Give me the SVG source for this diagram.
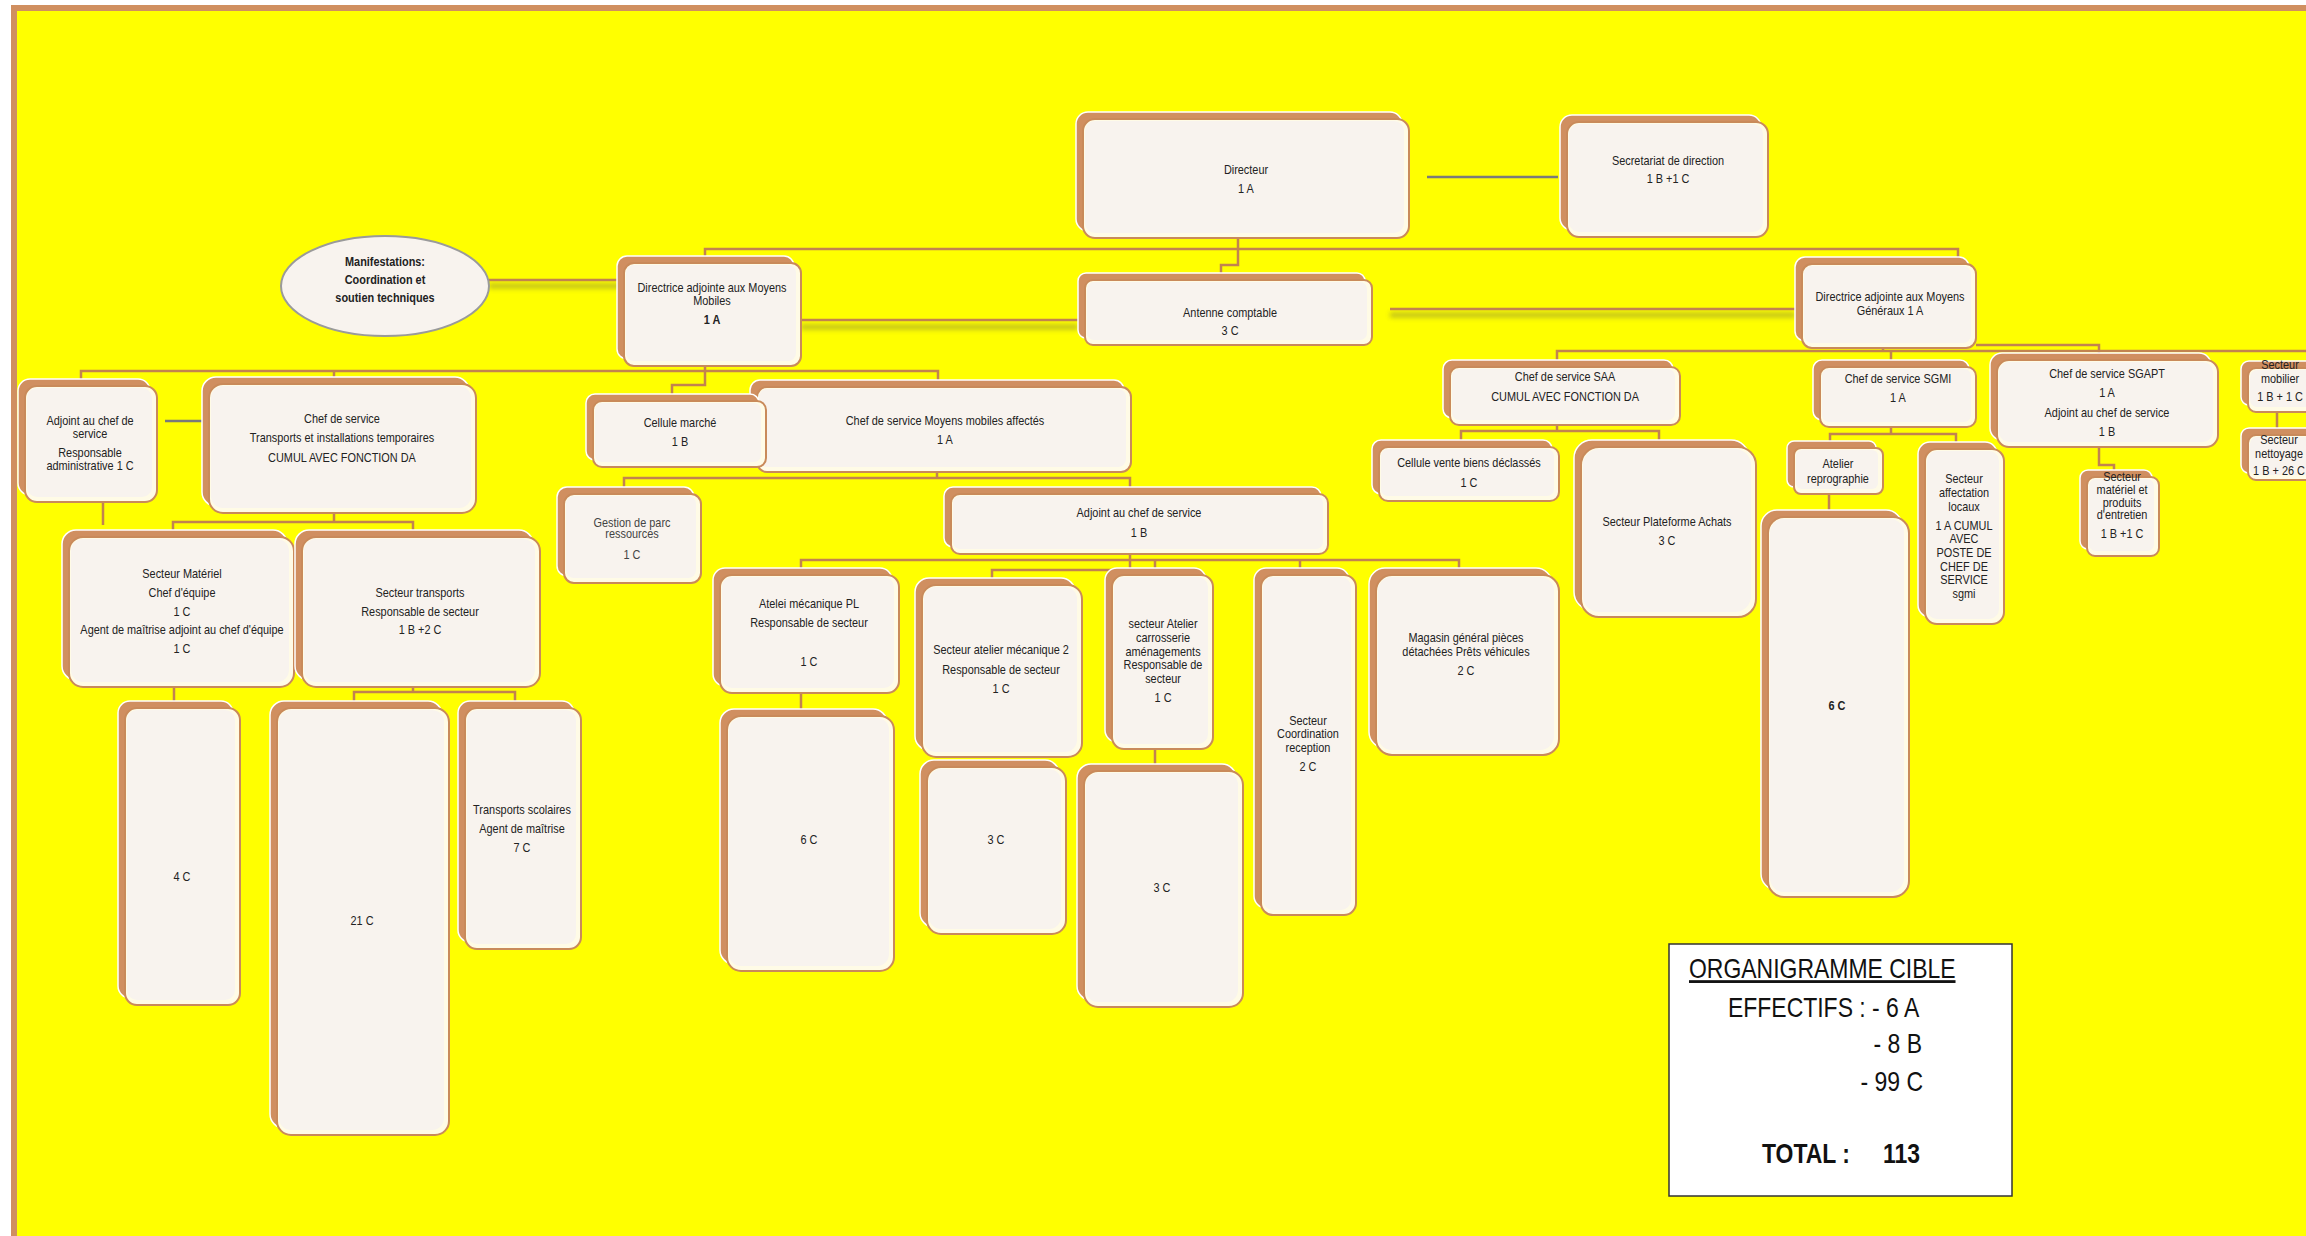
<svg xmlns="http://www.w3.org/2000/svg" width="2306" height="1236" viewBox="0 0 2306 1236">
<defs>
<style>
.bk{fill:#D08F60;stroke:#ffffff;stroke-width:1.5}
.fr{fill:#FFFBE6;stroke:#C98A5A;stroke-width:2}
.in{fill:#F8F3EE}
.t{font-family:"Liberation Sans",Arial,sans-serif;font-size:13.3px;fill:#222;text-anchor:middle;transform-box:fill-box;transform-origin:50% 50%;transform:scaleX(0.82)}
.b{font-weight:bold}
.c{fill:none;stroke:#C2834F;stroke-width:2.5}
.g{fill:none;stroke:#7a7a7a;stroke-width:2.5}
.s{fill:none;stroke:#6f6f40;stroke-width:5;opacity:0.45}
.lg{font-family:"Liberation Sans",Arial,sans-serif;font-size:28px;fill:#111;transform-box:fill-box;transform:scaleX(0.82)}
.ls{transform-origin:0% 50%}
.le{transform-origin:100% 50%;text-anchor:end}
</style>
<filter id="blur" filterUnits="userSpaceOnUse" x="0" y="0" width="2306" height="1236"><feGaussianBlur stdDeviation="2.5"/></filter>
</defs>
<rect x="0" y="0" width="2306" height="1236" fill="#ffffff"/>
<rect x="17" y="11" width="2289" height="1225" fill="#FFFF00"/>
<rect x="11" y="5" width="6" height="1231" fill="#D08F60"/>
<rect x="11" y="5" width="2295" height="6" fill="#D08F60"/>

<g id="connectors">
<path class="g" d="M1427,177 H1558"/>
<path class="g" d="M165,421 H219"/>
<path class="s" filter="url(#blur)" d="M489,286 H624"/>
<path class="s" filter="url(#blur)" d="M801,327 H1078"/>
<path class="s" filter="url(#blur)" d="M1390,315 H1795"/>
<path class="c" d="M489,280 H624"/>
<path class="c" d="M801,320 H1078"/>
<path class="c" d="M1390,309 H1795"/>
<path class="c" d="M705,256 V249 H1958 V258"/>
<path class="c" d="M1238,238 V265 H1221 V273"/>
<path class="c" d="M705,366 V371"/>
<path class="c" d="M81,379 V371 H938 V380"/>
<path class="c" d="M334,371 V377"/>
<path class="c" d="M705,371 V385 H672 V394"/>
<path class="c" d="M103,502 V525"/>
<path class="c" d="M334,513 V522"/>
<path class="c" d="M173,530 V522 H413 V530"/>
<path class="c" d="M174,687 V701"/>
<path class="c" d="M413,687 V692"/>
<path class="c" d="M354,701 V692 H515 V701"/>
<path class="c" d="M937,472 V478"/>
<path class="c" d="M624,487 V478 H1130 V487"/>
<path class="c" d="M1130,554 V570 H992 V578"/>
<path class="c" d="M801,568 V560 H1459 V568"/>
<path class="c" d="M1155,560 V568"/>
<path class="c" d="M1300,560 V568"/>
<path class="c" d="M801,693 V709"/>
<path class="c" d="M1155,749 V764"/>
<path class="c" d="M1883,348 V351"/>
<path class="c" d="M1557,360 V351 H2306"/>
<path class="c" d="M1891,351 V360"/>
<path class="c" d="M1976,345 H2099 V353"/>
<path class="c" d="M1557,425 V431"/>
<path class="c" d="M1461,440 V431 H1659 V440"/>
<path class="c" d="M1891,427 V434"/>
<path class="c" d="M1830,441 V434 H1956 V442"/>
<path class="c" d="M1829,494 V510"/>
<path class="c" d="M2099,447 V465 H2114 V470"/>
<path class="c" d="M2277,412 V428"/>
</g>

<g id="n-manif">
<ellipse cx="385" cy="286" rx="104" ry="50" fill="#F8F3EE" stroke="#9a9a9a" stroke-width="2"/>
<text class="t b"><tspan x="385" y="266">Manifestations:</tspan><tspan x="385" y="284">Coordination et</tspan><tspan x="385" y="302">soutien techniques</tspan></text>
</g>

<g id="n-dir">
<rect class="bk" x="1076" y="112" width="326" height="119" rx="12"/>
<rect class="fr" x="1083" y="119" width="326" height="119" rx="12"/>
<rect class="in" x="1085" y="121" width="319" height="112" rx="10"/>
<text class="t"><tspan x="1246" y="174">Directeur</tspan><tspan x="1246" y="193">1 A</tspan></text>
</g>

<g id="n-sec">
<rect class="bk" x="1560" y="115" width="201" height="115" rx="12"/>
<rect class="fr" x="1567" y="122" width="201" height="115" rx="12"/>
<rect class="in" x="1569" y="124" width="194" height="108" rx="10"/>
<text class="t"><tspan x="1668" y="165">Secretariat de direction</tspan><tspan x="1668" y="183">1 B +1 C</tspan></text>
</g>

<g id="n-dam">
<rect class="bk" x="617" y="256" width="177" height="103" rx="10"/>
<rect class="fr" x="624" y="263" width="177" height="103" rx="10"/>
<rect class="in" x="626" y="265" width="170" height="96" rx="8"/>
<text class="t"><tspan x="712" y="292">Directrice adjointe aux Moyens</tspan><tspan x="712" y="305">Mobiles</tspan><tspan x="712" y="324" class="b">1 A</tspan></text>
</g>

<g id="n-ant">
<rect class="bk" x="1078" y="273" width="287" height="65" rx="8"/>
<rect class="fr" x="1085" y="280" width="287" height="65" rx="8"/>
<rect class="in" x="1087" y="282" width="280" height="58" rx="7"/>
<text class="t"><tspan x="1230" y="317">Antenne comptable</tspan><tspan x="1230" y="335">3 C</tspan></text>
</g>

<g id="n-dag">
<rect class="bk" x="1795" y="257" width="174" height="84" rx="10"/>
<rect class="fr" x="1802" y="264" width="174" height="84" rx="10"/>
<rect class="in" x="1804" y="266" width="167" height="77" rx="8"/>
<text class="t"><tspan x="1890" y="301">Directrice adjointe aux Moyens</tspan><tspan x="1890" y="315">Généraux 1 A</tspan></text>
</g>

<g id="n-adj1">
<rect class="bk" x="18" y="379" width="132" height="116" rx="12"/>
<rect class="fr" x="25" y="386" width="132" height="116" rx="12"/>
<rect class="in" x="27" y="388" width="125" height="109" rx="10"/>
<text class="t"><tspan x="90" y="425">Adjoint au chef de</tspan><tspan x="90" y="438">service</tspan><tspan x="90" y="457">Responsable</tspan><tspan x="90" y="470">administrative 1 C</tspan></text>
</g>

<g id="n-cst">
<rect class="bk" x="202" y="377" width="267" height="129" rx="14"/>
<rect class="fr" x="209" y="384" width="267" height="129" rx="14"/>
<rect class="in" x="211" y="386" width="260" height="122" rx="12"/>
<text class="t"><tspan x="342" y="423">Chef de service</tspan><tspan x="342" y="442">Transports et installations temporaires</tspan><tspan x="342" y="462">CUMUL AVEC FONCTION DA</tspan></text>
</g>

<g id="n-smat">
<rect class="bk" x="62" y="530" width="225" height="150" rx="14"/>
<rect class="fr" x="69" y="537" width="225" height="150" rx="14"/>
<rect class="in" x="71" y="539" width="218" height="143" rx="12"/>
<text class="t"><tspan x="182" y="578">Secteur Matériel</tspan><tspan x="182" y="597">Chef d'équipe</tspan><tspan x="182" y="616">1 C</tspan><tspan x="182" y="634">Agent de maîtrise adjoint au chef d'équipe</tspan><tspan x="182" y="653">1 C</tspan></text>
</g>

<g id="n-stra">
<rect class="bk" x="295" y="530" width="238" height="150" rx="14"/>
<rect class="fr" x="302" y="537" width="238" height="150" rx="14"/>
<rect class="in" x="304" y="539" width="231" height="143" rx="12"/>
<text class="t"><tspan x="420" y="597">Secteur transports</tspan><tspan x="420" y="616">Responsable de secteur</tspan><tspan x="420" y="634">1 B +2 C</tspan></text>
</g>

<g id="n-c4">
<rect class="bk" x="118" y="701" width="115" height="297" rx="12"/>
<rect class="fr" x="125" y="708" width="115" height="297" rx="12"/>
<rect class="in" x="127" y="710" width="108" height="290" rx="10"/>
<text class="t"><tspan x="182" y="881">4 C</tspan></text>
</g>

<g id="n-c21">
<rect class="bk" x="270" y="701" width="172" height="427" rx="14"/>
<rect class="fr" x="277" y="708" width="172" height="427" rx="14"/>
<rect class="in" x="279" y="710" width="165" height="420" rx="12"/>
<text class="t"><tspan x="362" y="925">21 C</tspan></text>
</g>

<g id="n-tsc">
<rect class="bk" x="458" y="701" width="116" height="241" rx="12"/>
<rect class="fr" x="465" y="708" width="116" height="241" rx="12"/>
<rect class="in" x="467" y="710" width="109" height="234" rx="10"/>
<text class="t"><tspan x="522" y="814">Transports scolaires</tspan><tspan x="522" y="833">Agent de maîtrise</tspan><tspan x="522" y="852">7 C</tspan></text>
</g>

<g id="n-cmm">
<rect class="bk" x="750" y="380" width="374" height="85" rx="10"/>
<rect class="fr" x="757" y="387" width="374" height="85" rx="10"/>
<rect class="in" x="759" y="389" width="367" height="78" rx="8"/>
<text class="t"><tspan x="945" y="425">Chef de service Moyens mobiles affectés</tspan><tspan x="945" y="444">1 A</tspan></text>
</g>

<g id="n-cmar">
<rect class="bk" x="586" y="394" width="173" height="66" rx="9"/>
<rect class="fr" x="593" y="401" width="173" height="66" rx="9"/>
<rect class="in" x="595" y="403" width="166" height="59" rx="7"/>
<text class="t"><tspan x="680" y="427">Cellule marché</tspan><tspan x="680" y="446">1 B</tspan></text>
</g>

<g id="n-gpr">
<rect class="bk" x="557" y="487" width="137" height="89" rx="10"/>
<rect class="fr" x="564" y="494" width="137" height="89" rx="10"/>
<rect class="in" x="566" y="496" width="130" height="82" rx="8"/>
<text class="t" style="fill:#444"><tspan x="632" y="527">Gestion de parc</tspan><tspan x="632" y="538">ressources</tspan><tspan x="632" y="559">1 C</tspan></text>
</g>

<g id="n-adj2">
<rect class="bk" x="944" y="487" width="377" height="60" rx="9"/>
<rect class="fr" x="951" y="494" width="377" height="60" rx="9"/>
<rect class="in" x="953" y="496" width="370" height="53" rx="7"/>
<text class="t"><tspan x="1139" y="517">Adjoint au chef de service</tspan><tspan x="1139" y="537">1 B</tspan></text>
</g>

<g id="n-apl">
<rect class="bk" x="713" y="568" width="179" height="118" rx="12"/>
<rect class="fr" x="720" y="575" width="179" height="118" rx="12"/>
<rect class="in" x="722" y="577" width="172" height="111" rx="10"/>
<text class="t"><tspan x="809" y="608">Atelei mécanique PL</tspan><tspan x="809" y="627">Responsable de secteur</tspan><tspan x="809" y="666">1 C</tspan></text>
</g>

<g id="n-sam2">
<rect class="bk" x="915" y="578" width="160" height="172" rx="14"/>
<rect class="fr" x="922" y="585" width="160" height="172" rx="14"/>
<rect class="in" x="924" y="587" width="153" height="165" rx="12"/>
<text class="t"><tspan x="1001" y="654">Secteur atelier mécanique 2</tspan><tspan x="1001" y="674">Responsable de secteur</tspan><tspan x="1001" y="693">1 C</tspan></text>
</g>

<g id="n-sac">
<rect class="bk" x="1105" y="568" width="101" height="174" rx="12"/>
<rect class="fr" x="1112" y="575" width="101" height="174" rx="12"/>
<rect class="in" x="1114" y="577" width="94" height="167" rx="10"/>
<text class="t"><tspan x="1163" y="628">secteur Atelier</tspan><tspan x="1163" y="642">carrosserie</tspan><tspan x="1163" y="656">aménagements</tspan><tspan x="1163" y="669">Responsable de</tspan><tspan x="1163" y="683">secteur</tspan><tspan x="1163" y="702">1 C</tspan></text>
</g>

<g id="n-sco">
<rect class="bk" x="1254" y="568" width="95" height="340" rx="12"/>
<rect class="fr" x="1261" y="575" width="95" height="340" rx="12"/>
<rect class="in" x="1263" y="577" width="88" height="333" rx="10"/>
<text class="t"><tspan x="1308" y="725">Secteur</tspan><tspan x="1308" y="738">Coordination</tspan><tspan x="1308" y="752">reception</tspan><tspan x="1308" y="771">2 C</tspan></text>
</g>

<g id="n-mag">
<rect class="bk" x="1369" y="568" width="183" height="180" rx="16"/>
<rect class="fr" x="1376" y="575" width="183" height="180" rx="16"/>
<rect class="in" x="1378" y="577" width="176" height="173" rx="14"/>
<text class="t"><tspan x="1466" y="642">Magasin général pièces</tspan><tspan x="1466" y="656">détachées Prêts véhicules</tspan><tspan x="1466" y="675">2 C</tspan></text>
</g>

<g id="n-c6a">
<rect class="bk" x="720" y="709" width="167" height="255" rx="14"/>
<rect class="fr" x="727" y="716" width="167" height="255" rx="14"/>
<rect class="in" x="729" y="718" width="160" height="248" rx="12"/>
<text class="t"><tspan x="809" y="844">6 C</tspan></text>
</g>

<g id="n-c3a">
<rect class="bk" x="920" y="760" width="139" height="167" rx="14"/>
<rect class="fr" x="927" y="767" width="139" height="167" rx="14"/>
<rect class="in" x="929" y="769" width="132" height="160" rx="12"/>
<text class="t"><tspan x="996" y="844">3 C</tspan></text>
</g>

<g id="n-c3b">
<rect class="bk" x="1077" y="764" width="159" height="236" rx="14"/>
<rect class="fr" x="1084" y="771" width="159" height="236" rx="14"/>
<rect class="in" x="1086" y="773" width="152" height="229" rx="12"/>
<text class="t"><tspan x="1162" y="892">3 C</tspan></text>
</g>

<g id="n-saa">
<rect class="bk" x="1443" y="360" width="230" height="58" rx="9"/>
<rect class="fr" x="1450" y="367" width="230" height="58" rx="9"/>
<rect class="in" x="1452" y="369" width="223" height="51" rx="7"/>
<text class="t"><tspan x="1565" y="381">Chef de service SAA</tspan><tspan x="1565" y="401">CUMUL AVEC FONCTION DA</tspan></text>
</g>

<g id="n-cvb">
<rect class="bk" x="1372" y="440" width="180" height="54" rx="9"/>
<rect class="fr" x="1379" y="447" width="180" height="54" rx="9"/>
<rect class="in" x="1381" y="449" width="173" height="47" rx="7"/>
<text class="t"><tspan x="1469" y="467">Cellule vente biens déclassés</tspan><tspan x="1469" y="487">1 C</tspan></text>
</g>

<g id="n-spa">
<rect class="bk" x="1574" y="440" width="175" height="170" rx="18"/>
<rect class="fr" x="1581" y="447" width="175" height="170" rx="18"/>
<rect class="in" x="1583" y="449" width="168" height="163" rx="16"/>
<text class="t"><tspan x="1667" y="526">Secteur Plateforme Achats</tspan><tspan x="1667" y="545">3 C</tspan></text>
</g>

<g id="n-sgmi">
<rect class="bk" x="1813" y="360" width="156" height="60" rx="9"/>
<rect class="fr" x="1820" y="367" width="156" height="60" rx="9"/>
<rect class="in" x="1822" y="369" width="149" height="53" rx="7"/>
<text class="t"><tspan x="1898" y="383">Chef de service SGMI</tspan><tspan x="1898" y="402">1 A</tspan></text>
</g>

<g id="n-arep">
<rect class="bk" x="1787" y="441" width="89" height="46" rx="7"/>
<rect class="fr" x="1794" y="448" width="89" height="46" rx="7"/>
<rect class="in" x="1796" y="450" width="82" height="39" rx="6"/>
<text class="t"><tspan x="1838" y="468">Atelier</tspan><tspan x="1838" y="483">reprographie</tspan></text>
</g>

<g id="n-c6b">
<rect class="bk" x="1761" y="510" width="141" height="380" rx="16"/>
<rect class="fr" x="1768" y="517" width="141" height="380" rx="16"/>
<rect class="in" x="1770" y="519" width="134" height="373" rx="14"/>
<text class="t b"><tspan x="1837" y="710">6 C</tspan></text>
</g>

<g id="n-sal">
<rect class="bk" x="1918" y="442" width="79" height="175" rx="12"/>
<rect class="fr" x="1925" y="449" width="79" height="175" rx="12"/>
<rect class="in" x="1927" y="451" width="72" height="168" rx="10"/>
<text class="t"><tspan x="1964" y="483">Secteur</tspan><tspan x="1964" y="497">affectation</tspan><tspan x="1964" y="511">locaux</tspan><tspan x="1964" y="530">1 A CUMUL</tspan><tspan x="1964" y="543">AVEC</tspan><tspan x="1964" y="557">POSTE DE</tspan><tspan x="1964" y="571">CHEF DE</tspan><tspan x="1964" y="584">SERVICE</tspan><tspan x="1964" y="598">sgmi</tspan></text>
</g>

<g id="n-sgapt">
<rect class="bk" x="1990" y="353" width="221" height="87" rx="12"/>
<rect class="fr" x="1997" y="360" width="221" height="87" rx="12"/>
<rect class="in" x="1999" y="362" width="214" height="80" rx="10"/>
<text class="t"><tspan x="2107" y="378">Chef de service SGAPT</tspan><tspan x="2107" y="397">1 A</tspan><tspan x="2107" y="417">Adjoint au chef de service</tspan><tspan x="2107" y="436">1 B</tspan></text>
</g>

<g id="n-smp">
<rect class="bk" x="2080" y="470" width="72" height="79" rx="8"/>
<rect class="fr" x="2087" y="477" width="72" height="79" rx="8"/>
<rect class="in" x="2089" y="479" width="65" height="72" rx="7"/>
<text class="t"><tspan x="2122" y="481">Secteur</tspan><tspan x="2122" y="494">matériel et</tspan><tspan x="2122" y="507">produits</tspan><tspan x="2122" y="519">d'entretien</tspan><tspan x="2122" y="538">1 B +1 C</tspan></text>
</g>

<g id="n-smob">
<rect class="bk" x="2241" y="361" width="80" height="44" rx="8"/>
<rect class="fr" x="2248" y="368" width="80" height="44" rx="8"/>
<rect class="in" x="2250" y="370" width="73" height="37" rx="7"/>
<text class="t"><tspan x="2280" y="369">Secteur</tspan><tspan x="2280" y="383">mobilier</tspan><tspan x="2280" y="401">1 B + 1 C</tspan></text>
</g>

<g id="n-snet">
<rect class="bk" x="2241" y="428" width="80" height="45" rx="8"/>
<rect class="fr" x="2248" y="435" width="80" height="45" rx="8"/>
<rect class="in" x="2250" y="437" width="73" height="38" rx="7"/>
<text class="t"><tspan x="2279" y="444">Secteur</tspan><tspan x="2279" y="458">nettoyage</tspan><tspan x="2279" y="475">1 B + 26 C</tspan></text>
</g>

<g id="legend">
<rect x="1669" y="944" width="343" height="252" fill="#ffffff" stroke="#333" stroke-width="1.5"/>
<text class="lg ls" x="1689" y="978" text-decoration="underline">ORGANIGRAMME CIBLE</text>
<text class="lg ls" x="1728" y="1017">EFFECTIFS : - 6 A</text>
<text class="lg le" x="1922" y="1053">- 8 B</text>
<text class="lg le" x="1923" y="1091">- 99 C</text>
<text class="lg ls b" x="1762" y="1163">TOTAL :</text>
<text class="lg le b" x="1920" y="1163">113</text>
</g>
</svg>
